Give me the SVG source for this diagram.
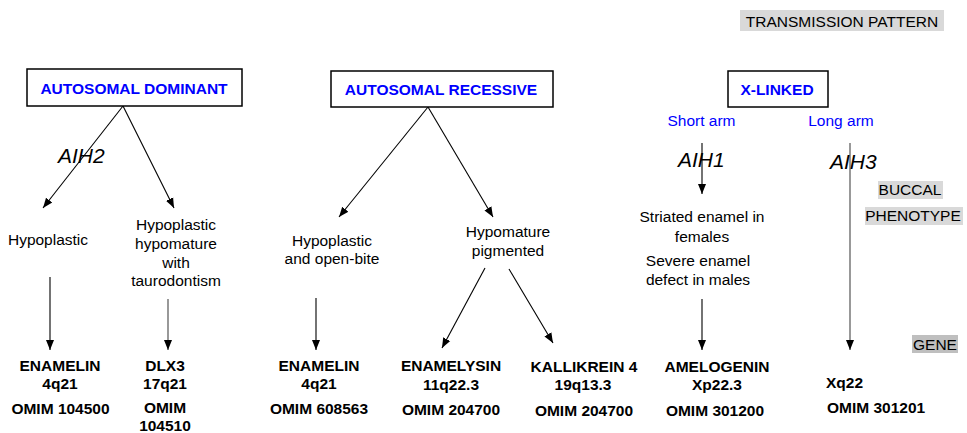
<svg xmlns="http://www.w3.org/2000/svg" width="967" height="433" viewBox="0 0 967 433">
<style>
text{font-family:"Liberation Sans",Arial,sans-serif;font-size:15.5px;fill:#000}
.c{text-anchor:middle}
.b{font-weight:bold}
.blue{fill:#0000ff}
.aih{font-size:21px;font-style:italic}
.box{fill:#fff;stroke:#000;stroke-width:1.5}
.lbl{fill:#d9d9d9}
.gene{fill:#bfbfbf}
.con line{stroke:#000;stroke-width:1.1;marker-end:url(#ah)}
.con line.g{stroke:#444}
</style>
<defs>
<marker id="ah" markerUnits="userSpaceOnUse" markerWidth="10" markerHeight="10" viewBox="0 0 10 10" refX="10" refY="5" orient="auto">
<path d="M0,1 L10,5 L0,9 Z" fill="#000"/>
</marker>
</defs>
<rect width="967" height="433" fill="#fff"/>

<g id="legend-transmission"><rect class="lbl" x="740" y="10" width="204" height="21"/><text x="842" y="26.5" class="c">TRANSMISSION PATTERN</text></g>
<g id="legend-buccal"><rect class="lbl" x="878" y="181" width="65" height="18"/><text x="910" y="195" class="c">BUCCAL</text><rect class="lbl" x="865" y="207" width="98" height="18"/><text x="913" y="221" class="c">PHENOTYPE</text></g>
<g id="legend-gene"><rect class="gene" x="912" y="335" width="46" height="18"/><text x="935" y="350" class="c">GENE</text></g>

<g class="con" id="connectors">
<line x1="123" y1="106" x2="43" y2="208"/>
<line x1="123" y1="106" x2="174" y2="208"/>
<line x1="428" y1="107" x2="339" y2="217"/>
<line x1="428" y1="107" x2="493" y2="217"/>
<line x1="485" y1="268" x2="442" y2="348"/>
<line x1="509" y1="269" x2="553" y2="343"/>
<line x1="50" y1="277" x2="50" y2="350"/>
<line class="g" x1="168" y1="299" x2="168" y2="350"/>
<line x1="316" y1="298" x2="316" y2="350"/>
<line x1="702" y1="143" x2="702" y2="194"/>
<line x1="702" y1="299" x2="702" y2="350"/>
<line class="g" x1="850" y1="143" x2="850" y2="350"/>
</g>

<g id="ad"><rect class="box" x="27" y="69" width="215" height="37"/><text x="134" y="94" class="c b blue">AUTOSOMAL DOMINANT</text></g>
<g id="ar"><rect class="box" x="331" y="71" width="222" height="36"/><text x="441" y="95" class="c b blue">AUTOSOMAL RECESSIVE</text></g>
<g id="xl"><rect class="box" x="728" y="71" width="100" height="36"/><text x="777" y="95" class="c b blue">X-LINKED</text></g>

<g id="short-arm"><text x="701.5" y="126" class="c blue">Short arm</text></g>
<g id="long-arm"><text x="841" y="126" class="c blue">Long arm</text></g>

<g id="aih2"><text x="58" y="163" class="aih">AIH2</text></g>
<g id="aih1"><text x="678" y="167" class="aih">AIH1</text></g>
<g id="aih3"><text x="830" y="169" class="aih">AIH3</text></g>

<g id="hypoplastic"><text x="48" y="245" class="c">Hypoplastic</text></g>
<g id="taurodontism"><text class="c" x="176" y="230">Hypoplastic</text><text class="c" x="176" y="249">hypomature</text><text class="c" x="176" y="267.5">with</text><text class="c" x="176" y="286">taurodontism</text></g>
<g id="openbite"><text class="c" x="332" y="245.5">Hypoplastic</text><text class="c" x="332" y="264">and open-bite</text></g>
<g id="hypomature"><text class="c" x="508" y="237">Hypomature</text><text class="c" x="508" y="255.5">pigmented</text></g>
<g id="striated"><text class="c" x="702" y="221.5">Striated enamel in</text><text class="c" x="702" y="241.5">females</text><text class="c" x="698" y="266">Severe enamel</text><text class="c" x="698" y="284.5">defect in males</text></g>

<g id="g-enamelin1"><text class="c b" x="60" y="371">ENAMELIN</text><text class="c b" x="60" y="389">4q21</text><text class="c b" x="60.5" y="414">OMIM 104500</text></g>
<g id="g-dlx3"><text class="c b" x="165" y="371">DLX3</text><text class="c b" x="165" y="389">17q21</text><text class="c b" x="165" y="413">OMIM</text><text class="c b" x="165" y="430.5">104510</text></g>
<g id="g-enamelin2"><text class="c b" x="319" y="371">ENAMELIN</text><text class="c b" x="319" y="389">4q21</text><text class="c b" x="319" y="414">OMIM 608563</text></g>
<g id="g-enamelysin"><text class="c b" x="451" y="371">ENAMELYSIN</text><text class="c b" x="451" y="389.5">11q22.3</text><text class="c b" x="451" y="415">OMIM 204700</text></g>
<g id="g-kallikrein"><text class="c b" x="584" y="371.5">KALLIKREIN 4</text><text class="c b" x="583" y="390">19q13.3</text><text class="c b" x="584" y="416">OMIM 204700</text></g>
<g id="g-amelogenin"><text class="c b" x="717" y="371.5">AMELOGENIN</text><text class="c b" x="717" y="390">Xp22.3</text><text class="c b" x="715" y="416">OMIM 301200</text></g>
<g id="g-xq22"><text class="b" x="826" y="388">Xq22</text><text class="b" x="827" y="413">OMIM 301201</text></g>
</svg>
